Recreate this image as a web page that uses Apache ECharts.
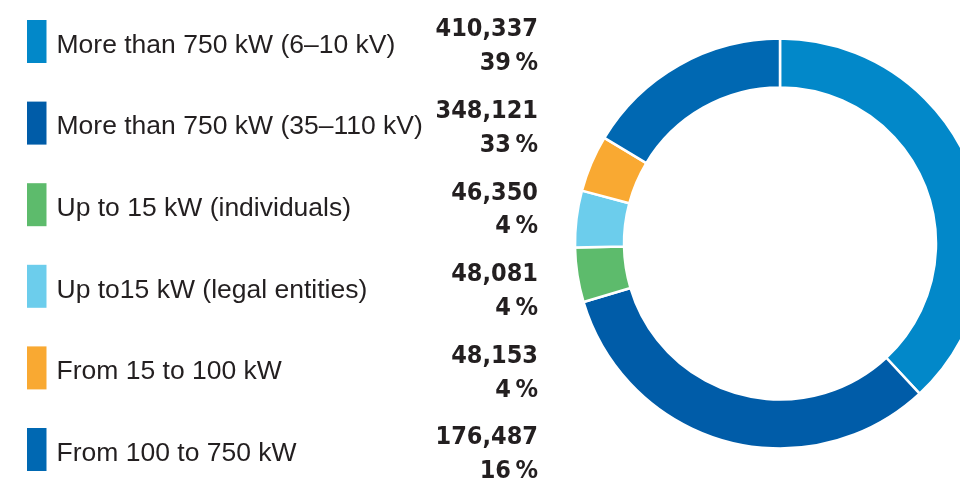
<!DOCTYPE html>
<html>
<head>
<meta charset="utf-8">
<script src="https://cdn.jsdelivr.net/npm/echarts@6/dist/echarts.min.js"></script>
<style>
  html, body { margin: 0; padding: 0; background: #fff; }
  #chart { width: 960px; height: 480px; }
</style>
</head>
<body>
<div id="chart"></div>
<script>
// categories, in drawing order (clockwise from 12 o'clock)
const categories = [
  'More than 750 kW (6–10 kV)',
  'More than 750 kW (35–110 kV)',
  'Up to 15 kW (individuals)',
  'Up to15 kW (legal entities)',
  'From 15 to 100 kW',
  'From 100 to 750 kW'
]
const values = [410337, 348121, 46350, 48081, 48153, 176487]
const shares = ['39', '33', '4', '4', '4', '16']  // % as printed
const colors = ['#0288C9', '#005CA8', '#5DBB6C', '#6CCDEC', '#F9A932', '#0068B2']

const chart = echarts.init(document.getElementById('chart'))

const fmtNum = v => v.toLocaleString('en-US')

const option = {
  animation: false,
  color: colors,
  legend: [
    {
      // squares + names
      orient: 'vertical',
      left: 27,
      top: 20,
      height: 480,
      padding: 0,
      itemWidth: 19.5,
      itemHeight: 43,
      itemGap: 38.6,
      icon: 'rect',
      itemStyle: { borderWidth: 0 },
      selectedMode: false,
      data: categories,
      formatter: name => '{t|' + name + '}',
      textStyle: {
        rich: {
          t: {
            fontFamily: 'Liberation Sans',
            fontSize: 26.5,
            color: '#231F20',
            padding: [8, 0, 0, 5]
          }
        }
      }
    },
    {
      // value + share, right aligned
      orient: 'vertical',
      right: 417,
      top: 13,
      height: 480,
      padding: 0,
      align: 'right',
      itemWidth: 0,
      itemHeight: 0,
      itemGap: 14,
      icon: 'none',
      selectedMode: false,
      data: categories,
      formatter: name => {
        const i = categories.indexOf(name)
        return fmtNum(values[i]) + '\n' + shares[i] + '\u2009%'
      },
      textStyle: {
        fontFamily: 'DejaVu Sans Condensed',
        fontWeight: 'bold',
        fontSize: 25,
        lineHeight: 33.8,
        color: '#231F20'
      }
    }
  ],
  series: [
    {
      type: 'pie',
      center: [780, 243.5],
      radius: [156, 205],
      startAngle: 90,
      clockwise: true,
      label: { show: false },
      labelLine: { show: false },
      emphasis: { disabled: true },
      itemStyle: { borderColor: '#fff', borderWidth: 2.5 },
      data: categories.map((c, i) => ({ name: c, value: values[i] }))
    }
  ]
}

chart.setOption(option)
</script>
</body>
</html>
